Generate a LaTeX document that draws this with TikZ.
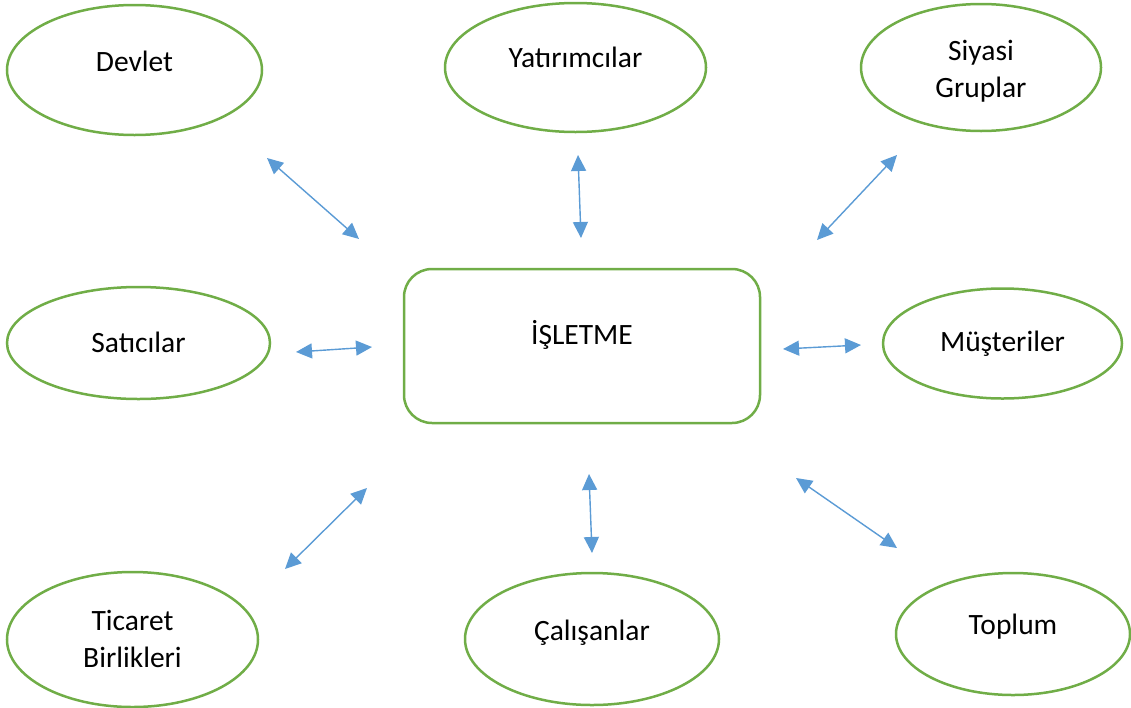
\documentclass[tikz,border=0pt]{standalone}
\usepackage{fontspec}
\setmainfont{Carlito}
\usetikzlibrary{shapes.geometric,arrows.meta}
\definecolor{elgreen}{HTML}{70AD47}
\definecolor{arrblue}{HTML}{5B9BD5}
\tikzset{
  ell/.style={shape=ellipse, draw=elgreen, line width=2.5pt, inner sep=0pt,
    font=\fontsize{29.5}{37}\selectfont, align=center, text height=0pt, text depth=0pt},
  mainbox/.style={shape=rectangle, draw=elgreen, line width=2.5pt, rounded corners=28pt,
    inner sep=0pt, font=\fontsize{29.5}{37}\selectfont, align=center,
    minimum width=356pt, minimum height=154pt},
  conn/.style={draw=arrblue, line width=1.4pt, >={Triangle[length=16pt,width=15pt]}, <->}
}
\begin{document}
\begin{tikzpicture}[x=1pt,y=-1pt]
\useasboundingbox (0,0) rectangle (1131,707);
\node[ell, minimum width=255pt, minimum height=130pt, text height=2pt] (dev) at (134.5,70) {Devlet};
\node[ell, minimum width=261pt, minimum height=129pt] (yat) at (575.5,67.5) {Yatırımcılar};
\node[ell, minimum width=240pt, minimum height=127pt, text height=59pt] (siy) at (981,67.5) {Siyasi\\Gruplar};
\node[ell, minimum width=263pt, minimum height=112pt, text height=18pt] (sat) at (138.5,343) {Satıcılar};
\node[ell, minimum width=239pt, minimum height=110pt, text height=16pt] (mus) at (1002.5,343.5) {Müşteriler};
\node[ell, minimum width=251pt, minimum height=135pt, text height=55pt] (tic) at (132.5,639.5) {Ticaret\\Birlikleri};
\node[ell, minimum width=254pt, minimum height=132pt, text height=2pt] (cal) at (592,639) {Çalışanlar};
\node[ell, minimum width=234pt, minimum height=122pt] (top) at (1013,634) {Toplum};
\node[mainbox, text height=0pt, text depth=4pt] (isl) at (582,346) {İŞLETME};

\coordinate (a1s) at (267,158);   \coordinate (a1e) at (359,239);
\coordinate (a2s) at (578,155);   \coordinate (a2e) at (581,238);
\coordinate (a3s) at (897,155);   \coordinate (a3e) at (817,240);
\coordinate (a4s) at (296,352);   \coordinate (a4e) at (372,347);
\coordinate (a5s) at (783,349);   \coordinate (a5e) at (861,345);
\coordinate (a6s) at (367,488);   \coordinate (a6e) at (285,569);
\coordinate (a7s) at (589,474);   \coordinate (a7e) at (592,553);
\coordinate (a8s) at (796,478);   \coordinate (a8e) at (897,548);

\draw[conn] (a1s) -- (a1e);
\draw[conn] (a2s) -- (a2e);
\draw[conn] (a3s) -- (a3e);
\draw[conn] (a4s) -- (a4e);
\draw[conn] (a5s) -- (a5e);
\draw[conn] (a6s) -- (a6e);
\draw[conn] (a7s) -- (a7e);
\draw[conn] (a8s) -- (a8e);
\end{tikzpicture}
\end{document}
